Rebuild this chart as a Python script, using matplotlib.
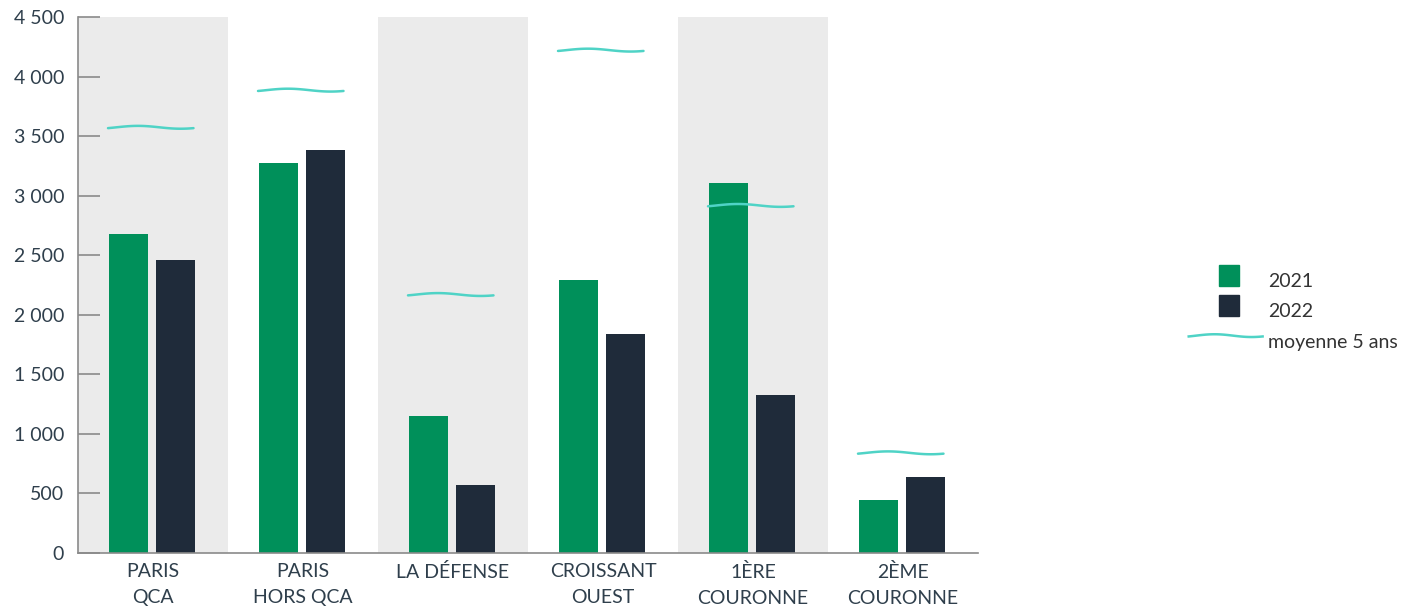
import numpy as np
import matplotlib.pyplot as plt
from matplotlib.patches import Patch, Rectangle
from matplotlib.lines import Line2D
from matplotlib.legend_handler import HandlerBase

# données
categories = ["PARIS\nQCA", "PARIS\nHORS QCA", "LA DÉFENSE", "CROISSANT\nOUEST",
              "1ÈRE\nCOURONNE", "2ÈME\nCOURONNE"]
v2021 = [2675, 3272, 1152, 2296, 3103, 446]
v2022 = [2464, 3381, 572, 1842, 1329, 639]
moy5 = [3574, 3886, 2170, 4222, 2918, 841]
yticks = [0, 500, 1000, 1500, 2000, 2500, 3000, 3500, 4000, 4500]

green = "#00905a"
dark = "#1f2b3a"
teal = "#4fd3c6"
band = "#ebebeb"
txt = "#2f3f4c"

plt.rcParams['font.family'] = ['Lato', 'DejaVu Sans']

fig = plt.figure(figsize=(14.21, 6.08), dpi=100)
ax = fig.add_axes([78/1421, 1-553/608, 900/1421, 536/608])

x = np.arange(len(categories))
for i in x:
    if i % 2 == 0:
        ax.axvspan(i-0.5, i+0.5, color=band, lw=0, zorder=0)

w = 0.26
ax.bar(x-0.163, v2021, w, color=green, zorder=2)
ax.bar(x+0.15, v2022, w, color=dark, zorder=2)

# trait ondulé pour la moyenne 5 ans
t = np.linspace(0, 1, 60)
wave = np.sin(2*np.pi*(t - 0.1))
for i, m in zip(x, moy5):
    ax.plot(i-0.3+0.57*t, m+12*wave, color=teal, lw=1.8, zorder=3,
            solid_capstyle='round')

ax.set_xlim(-0.5, 5.5)
ax.set_ylim(0, 4500)
ax.set_yticks(yticks)
ax.set_yticklabels([f"{v:,}".replace(",", " ") for v in yticks])
ax.set_xticks(x)
ax.set_xticklabels(categories, linespacing=1.65)
ax.tick_params(axis='y', direction='in', length=16, color='#8a8a8a', width=1.2,
               labelsize=14, labelcolor=txt, pad=10)
ax.tick_params(axis='x', length=0, labelsize=14, labelcolor=txt, pad=7)
for s in ['top', 'right']:
    ax.spines[s].set_visible(False)
for s in ['left', 'bottom']:
    ax.spines[s].set_color('#8a8a8a')
    ax.spines[s].set_linewidth(1.2)


class WaveHandler(HandlerBase):
    def create_artists(self, legend, orig, xd, yd, width, height, fontsize, trans):
        tt = np.linspace(0, 1, 40)
        xs = xd + tt*width
        ys = yd + height/2 + 1.0*np.sin(2*np.pi*(tt - 0.1))
        ln = Line2D(xs, ys, color=teal, lw=1.8, transform=trans)
        return [ln]


class SquareHandler(HandlerBase):
    def create_artists(self, legend, orig, xd, yd, width, height, fontsize, trans):
        s = 15.1
        r = Rectangle((xd + width*0.545 - s/2, yd + height/2 - s/2), s, s,
                      color=orig.get_facecolor(), transform=trans)
        return [r]


handles = [Patch(color=green), Patch(color=dark), Line2D([], [], color=teal)]
leg = fig.legend(handles, ["2021", "2022", "moyenne 5 ans"],
                 handler_map={Line2D: WaveHandler(), Patch: SquareHandler()},
                 loc='center left', bbox_to_anchor=(1179/1421, 1-311/608),
                 frameon=False, fontsize=14, handlelength=3.8, handleheight=1.1,
                 handletextpad=0.3, labelspacing=0.58, borderpad=0)
for tx in leg.get_texts():
    tx.set_color('#333333')

fig.savefig("out.png", dpi=100)
